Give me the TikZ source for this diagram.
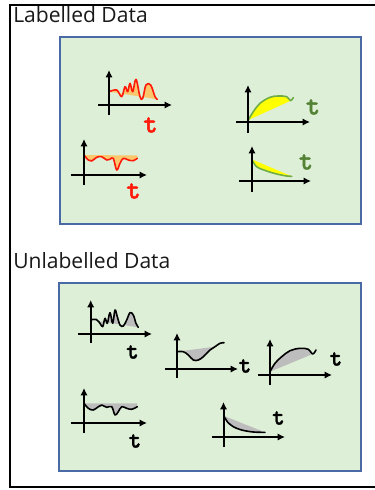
\documentclass[tikz,border=0pt]{standalone}
\usepackage{fontspec}
\setmainfont{Open Sans}
\newfontfamily\tfont{lmmonolt10-bold}[Extension=.otf, FakeBold=1.5]
\usetikzlibrary{arrows.meta}

\definecolor{panelfill}{HTML}{DDEFD6}
\definecolor{panelline}{HTML}{4A6AA5}
\definecolor{redline}{HTML}{FF1A0A}
\definecolor{orangefill}{HTML}{FAC76C}
\definecolor{greenline}{HTML}{70AD47}
\definecolor{greentext}{HTML}{548235}
\definecolor{yellowfill}{HTML}{FFFF00}
\definecolor{grayfill}{HTML}{BDBDBD}

\begin{document}
\begin{tikzpicture}[x=0.75pt, y=-0.75pt, >={Latex[length=5.5pt,width=5.5pt]},
  axis/.style={->, line width=1.5pt},
  curve/.style={line width=1.2pt, line join=round, line cap=round},
  panel/.style={fill=panelfill, draw=panelline, line width=1.2pt},
  title/.style={anchor=base west, inner sep=0pt, font=\fontsize{15.8}{18}\selectfont, text=black!90},
  tlabel/.style={inner sep=0pt, font=\tfont\fontsize{20.5}{20}\selectfont},
  tsmall/.style={inner sep=0pt, font=\tfont\fontsize{18}{18}\selectfont}]
  \useasboundingbox (0,0) rectangle (375,490);
  \fill[white] (0,0) rectangle (375,490);

  % outer frame
  \draw[line width=1.6pt] (375,5) -- (10,5) -- (10,487) -- (375,487);

  % labelled data
  \node[title] (lab) at (13,22) {Labelled Data};
  \draw[panel] (60,37) rectangle (361,224);

  % red, wiggly
  \fill[orangefill] plot[smooth, tension=0.6] coordinates {(109.3,91.7) (116.7,90) (121.7,96.7) (125,86.7) (127.7,91.7) (130,83.3) (132.7,91.7) (136,79.3) (140,96.7) (142.7,98.3) (146,85) (150.7,85) (155,96.7) (157.3,99.3)} -- cycle;
  \draw[curve, redline] plot[smooth, tension=0.6] coordinates {(109.3,91.7) (116.7,90) (121.7,96.7) (125,86.7) (127.7,91.7) (130,83.3) (132.7,91.7) (136,79.3) (140,96.7) (142.7,98.3) (146,85) (150.7,85) (155,96.7) (157.3,99.3)};
  \draw[axis] (98,105) -- (172,105);
  \draw[axis] (109,115) -- (109,70);
  \node[tlabel, text=redline] (ta) at (150.5,125) {t};

  \fill[orangefill] plot[smooth, tension=0.6] coordinates {(84,155) (88.3,160) (91.7,161) (96.7,157.3) (101.7,156.7) (106.7,160) (110,159.3) (113.3,158.3) (116.7,170) (120,163.3) (123.3,158.3) (128.3,160) (133.3,160.7) (137.3,158.3)} -- (137.3,155.5) -- cycle;
  \draw[curve, redline] plot[smooth, tension=0.6] coordinates {(84,155) (88.3,160) (91.7,161) (96.7,157.3) (101.7,156.7) (106.7,160) (110,159.3) (113.3,158.3) (116.7,170) (120,163.3) (123.3,158.3) (128.3,160) (133.3,160.7) (137.3,158.3)};
  \draw[axis] (71,175) -- (147,175);
  \draw[axis] (84,185) -- (84,139);
  \node[tlabel, text=redline] (tb) at (133.5,191) {t};

  % green, rising and falling
  \fill[yellowfill] plot[smooth, tension=0.6] coordinates {(248.3,120) (253.3,111.7) (260,103.3) (270,97.3) (278.3,96) (286.7,96.7) (290.7,100.7)} -- cycle;
  \draw[curve, greenline] plot[smooth, tension=0.6] coordinates {(248.3,120) (253.3,111.7) (260,103.3) (270,97.3) (278.3,96) (286.7,96.7) (290.7,100.7) (293.3,97.5)};
  \draw[axis] (236,122) -- (310,122);
  \draw[axis] (248,133) -- (248,85);
  \node[tlabel, text=greentext] (tc) at (313,107) {t};

  \fill[yellowfill] plot[smooth, tension=0.6] coordinates {(251.7,159.3) (256.7,166.7) (266.7,171) (276.7,174) (286.7,176) (291.7,176.3)} -- cycle;
  \draw[curve, greenline] plot[smooth, tension=0.6] coordinates {(251.7,159.3) (256.7,166.7) (266.7,171) (276.7,174) (286.7,176) (291.7,176.3)};
  \draw[axis] (239,181) -- (311,181);
  \draw[axis] (252,192) -- (252,146);
  \node[tlabel, text=greentext] (td) at (306,162) {t};

  % unlabelled data
  \node[title] (unlab) at (13,268) {Unlabelled Data};
  \draw[panel] (59,283) rectangle (361,471);

  \fill[grayfill] plot[smooth, tension=0.6] coordinates {(90.7,320) (96,319.3) (100,323.3) (102.7,326.7) (105,318.3) (107.3,323.3) (110,312.7) (112.7,323.3) (115,310) (117.3,316.7) (120,325) (123.3,326) (126.7,320) (130,312.7) (133.3,315) (136,323.3) (138.3,327.3)} -- cycle;
  \draw[curve] plot[smooth, tension=0.6] coordinates {(90.7,320) (96,319.3) (100,323.3) (102.7,326.7) (105,318.3) (107.3,323.3) (110,312.7) (112.7,323.3) (115,310) (117.3,316.7) (120,325) (123.3,326) (126.7,320) (130,312.7) (133.3,315) (136,323.3) (138.3,327.3)};
  \draw[axis] (78,334) -- (152,334);
  \draw[axis] (90.7,343) -- (90.7,300);
  \node[tsmall] (te) at (132.5,352) {t};

  \fill[grayfill] plot[smooth, tension=0.6] coordinates {(176.7,351.7) (183.3,351.7) (188.3,355) (193.3,360) (198.3,360) (203.3,356.7) (210,350) (215,346.7)} -- cycle;
  \draw[curve] plot[smooth, tension=0.6] coordinates {(176.7,351.7) (183.3,351.7) (188.3,355) (193.3,360) (198.3,360) (203.3,356.7) (210,350) (215,346.7) (220,343.3) (224,342.7)};
  \draw[axis] (165,369) -- (238,369);
  \draw[axis] (177,378) -- (177,333);
  \node[tsmall] (tf) at (245,366) {t};

  \fill[grayfill] plot[smooth, tension=0.6] coordinates {(270,371.7) (275,363.3) (281.7,356.7) (290,350.7) (300,348.3) (308.3,349.3) (312.7,354)} -- cycle;
  \draw[curve] plot[smooth, tension=0.6] coordinates {(270,371.7) (275,363.3) (281.7,356.7) (290,350.7) (300,348.3) (308.3,349.3) (312.7,354) (316,350)};
  \draw[axis] (258,375) -- (332,375);
  \draw[axis] (270,385) -- (270,339);
  \node[tsmall] (tg) at (336,359) {t};

  \fill[grayfill] plot[smooth, tension=0.6] coordinates {(84,403.3) (88.3,408.3) (93.3,410) (98.3,406.7) (101.7,405) (106.7,407.3) (111.7,406.7) (115,415) (118.3,411.7) (121.7,406.7) (126.7,408.3) (131.7,409.3) (137.3,406.7)} -- (137.3,403.3) -- cycle;
  \draw[curve] plot[smooth, tension=0.6] coordinates {(84,403.3) (88.3,408.3) (93.3,410) (98.3,406.7) (101.7,405) (106.7,407.3) (111.7,406.7) (115,415) (118.3,411.7) (121.7,406.7) (126.7,408.3) (131.7,409.3) (137.3,406.7)};
  \draw[axis] (71,423) -- (147,423);
  \draw[axis] (84,433) -- (84,388);
  \node[tsmall] (th) at (135,441) {t};

  \fill[grayfill] plot[smooth, tension=0.6] coordinates {(224,416) (227.3,421.7) (233.3,426.7) (241.7,430) (253.3,432) (265,432.3)} -- cycle;
  \draw[curve] plot[smooth, tension=0.6] coordinates {(224,416) (227.3,421.7) (233.3,426.7) (241.7,430) (253.3,432) (265,432.3)};
  \draw[axis] (212,437) -- (285,437);
  \draw[axis] (223.5,447) -- (223.5,402);
  \node[tsmall] (ti) at (278.5,418) {t};
\end{tikzpicture}
\end{document}
